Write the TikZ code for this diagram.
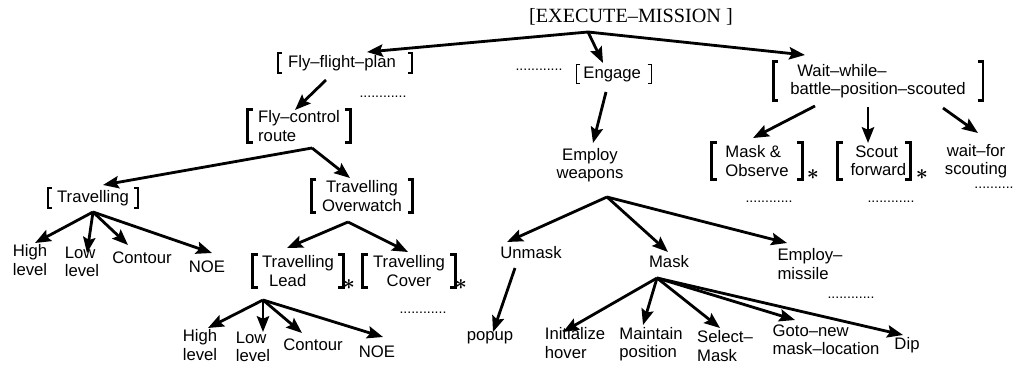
\documentclass[tikz,border=0pt]{standalone}
\usepackage{fontspec}
\setmainfont{Liberation Sans}
\newfontfamily\tms{Liberation Serif}
\usetikzlibrary{arrows.meta,calc}

\begin{document}
\begin{tikzpicture}[
  x=0.02cm,y=-0.02cm,
  tx/.style={inner sep=0pt,font=\fontsize{9.5}{10.5}\selectfont},
  ml/.style={tx,align=left},
  mc/.style={tx,align=center},
  bx/.style={tx,align=left},
  hd/.style={inner sep=0pt,font=\tms\fontsize{11.5}{13}\selectfont},
  dt/.style={inner sep=0pt,font=\fontsize{8}{8}\selectfont},
  st/.style={inner sep=0pt,font=\fontsize{13}{13}\selectfont\boldmath},
  bkthin/.style={line width=0.9pt},
  bkthick/.style={line width=1.6pt},
  ar/.style={line width=1.6pt,-{Stealth[length=9pt,width=7pt,inset=1.5pt]}}
]
\useasboundingbox (0,0) rectangle (1016,365);

\node[hd] (em) at (631,17) {[EXECUTE–MISSION\ ]};
\node[bx,minimum width=76pt,minimum height=10.8pt] (fly) at (345,63) {Fly--flight--plan\hspace{3.4pt}};
\node[bx,minimum width=42.5pt,minimum height=10.2pt] (eng) at (614,74) {Engage\hspace{2pt}};
\node[bx,minimum width=119pt,minimum height=21.5pt] (wait) at (878,81) {\hspace{4pt}Wait--while--\\battle--position--scouted};
\node[dt] (d1) at (383,97) {............};
\node[dt] (d2) at (539,70) {............};

\node[bx,minimum width=57.8pt,minimum height=18.1pt] (fcr) at (299,126) {Fly--control\\route};
\node[bx,minimum width=51pt,minimum height=11.3pt] (trav) at (93,198) {Travelling};
\node[mc,minimum width=57.3pt,minimum height=18.7pt] (tov) at (362,196) {Travelling\\Overwatch};
\node[ml] (hl1) at (30,260) {High\\level};
\node[ml] (ll1) at (82,262) {Low\\level};
\node[tx] (ct1) at (142,258) {Contour};
\node[tx] (noe1) at (207,267) {NOE};
\node[bx,minimum width=51pt,minimum height=18.1pt] (tl) at (298,271) {Travelling\\\hspace{4pt}Lead};
\node[st] (tls) at (349,285) {$\ast$};
\node[mc,minimum width=52.2pt,minimum height=18.1pt] (tc) at (409,271) {Travelling\\Cover\hspace{4pt}};
\node[st] (tcs) at (461,285) {$\ast$};
\node[dt] (d3) at (423,313) {............};
\node[ml] (hl2) at (200,345) {High\\level};
\node[ml] (ll2) at (253,347) {Low\\level};
\node[tx] (ct2) at (313,345) {Contour};
\node[tx] (noe2) at (377,352) {NOE};

\node[mc] (ew) at (590,165) {Employ\\weapons};
\node[tx] (un) at (531,253) {Unmask};
\node[tx] (mk) at (669,262) {Mask};
\node[ml] (emis) at (810,264) {Employ--\\missile};
\node[dt] (d7) at (851,298) {............};
\node[tx] (pop) at (490,338) {popup};
\node[ml] (ih) at (575,343) {Initialize\\hover};
\node[ml] (mp) at (651,344) {Maintain\\position};
\node[ml] (sm) at (725,346) {Select--\\Mask};
\node[ml] (gnm) at (826,340) {Goto--new\\mask--location};
\node[tx] (dip) at (907,345) {Dip};

\node[bx,minimum width=51pt,minimum height=21pt] (mo) at (757,161) {Mask \&\\Observe};
\node[st] (mos) at (813,175) {$\ast$};
\node[mc,minimum width=40.8pt,minimum height=21pt] (sf) at (874,161) {\hspace{3pt}Scout\\\hspace{5pt}forward};
\node[st] (sfs) at (922,175) {$\ast$};
\node[mc] (wfs) at (976,161) {wait--for\\scouting};
\node[dt] (d4) at (769,202) {............};
\node[dt] (d5) at (891,202) {............};
\node[dt] (d6) at (994,188) {..........};

\foreach \n in {fly,eng,trav}
  \draw[bkthin] ($(\n.north west)+(4,0)$) -- (\n.north west) -- (\n.south west) -- ($(\n.south west)+(4,0)$)
    ($(\n.north east)+(-4,0)$) -- (\n.north east) -- (\n.south east) -- ($(\n.south east)+(-4,0)$);
\foreach \n in {wait,fcr,tov,tl,tc,mo,sf}
  \draw[bkthick] ($(\n.north west)+(5,0)$) -- (\n.north west) -- (\n.south west) -- ($(\n.south west)+(5,0)$)
    ($(\n.north east)+(-5,0)$) -- (\n.north east) -- (\n.south east) -- ($(\n.south east)+(-5,0)$);

\draw[ar] ($(em)+(-43,15)$) -- ($(fly)+(22,-11)$);
\draw[ar] ($(em)+(-43,15)$) -- ($(eng)+(-11,-11)$);
\draw[ar] ($(em)+(-43,15)$) -- ($(wait)+(-73,-26)$);
\draw[ar] ($(fly)+(-19,17)$) -- ($(fcr)+(-4,-16)$);
\draw[ar] ($(fcr)+(13,22)$) -- ($(trav)+(10,-13)$);
\draw[ar] ($(fcr)+(13,22)$) -- ($(tov)+(-12,-18)$);
\draw[ar] ($(trav)+(0,14)$) -- ($(hl1)+(5,-17)$);
\draw[ar] ($(trav)+(0,14)$) -- ($(ll1)+(5,-9)$);
\draw[ar] ($(trav)+(0,14)$) -- ($(ct1)+(-14,-13)$);
\draw[ar] ($(trav)+(0,14)$) -- ($(noe1)+(5,-14)$);
\draw[ar] ($(tov)+(-14,26)$) -- ($(tl)+(-11,-23)$);
\draw[ar] ($(tov)+(-14,26)$) -- ($(tc)+(-1,-19)$);
\draw[ar] ($(tl)+(-35,29)$) -- ($(hl2)+(8,-17)$);
\draw[ar] ($(tl)+(-35,29)$) -- ($(ll2)+(10,-15)$);
\draw[ar] ($(tl)+(-35,29)$) -- ($(ct2)+(-11,-12)$);
\draw[ar] ($(tl)+(-35,29)$) -- ($(noe2)+(6,-15)$);
\draw[ar] ($(eng)+(-8,18)$) -- ($(ew)+(3,-22)$);
\draw[ar] ($(ew)+(17,32)$) -- ($(un)+(-24,-11)$);
\draw[ar] ($(ew)+(17,32)$) -- ($(mk)+(-1,-10)$);
\draw[ar] ($(ew)+(17,32)$) -- ($(emis)+(-23,-21)$);
\draw[ar] ($(un)+(-16,15)$) -- ($(pop)+(3,-6)$);
\draw[ar] ($(mk)+(-12,16)$) -- ($(ih)+(-12,-11)$);
\draw[ar] ($(mk)+(-12,16)$) -- ($(mp)+(-8,-19)$);
\draw[ar] ($(mk)+(-12,16)$) -- ($(sm)+(-5,-18)$);
\draw[ar] ($(mk)+(-12,16)$) -- ($(gnm)+(-31,-20)$);
\draw[ar] ($(mk)+(-12,16)$) -- ($(dip)+(-4,-10)$);
\draw[ar] ($(wait)+(-63,25)$) -- ($(mo)+(-4,-23)$);
\draw[ar] ($(wait)+(-10,26)$) -- ($(sf)+(-6,-18)$);
\draw[ar] ($(wait)+(65,27)$) -- ($(wfs)+(2,-28)$);
\end{tikzpicture}
\end{document}
